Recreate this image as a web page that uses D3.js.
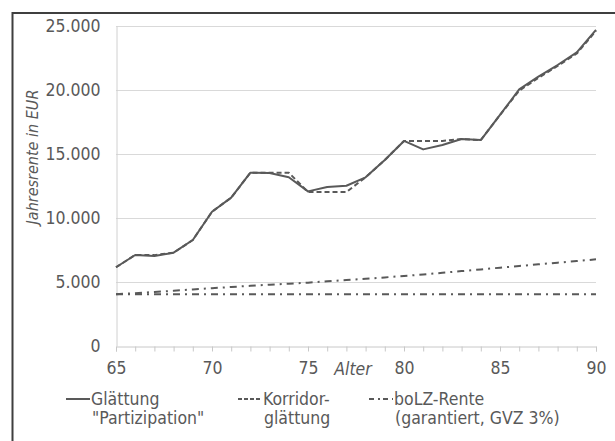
<!DOCTYPE html>
<html>
<head>
<meta charset="utf-8">
<script src="https://cdn.jsdelivr.net/npm/d3@7"></script>
<style>
  body { margin: 0; background: #fff; }
  svg { display: block; font-family: "DejaVu Sans Condensed", "DejaVu Sans", Verdana, sans-serif; }
</style>
</head>
<body>
<div id="chart"></div>
<script>
// Alter 65..90
const ages = [65, 66, 67, 68, 69, 70, 71, 72, 73, 74, 75, 76, 77, 78, 79, 80, 81, 82, 83, 84, 85, 86, 87, 88, 89, 90];

const glaettung = [6150, 7110, 7030, 7290, 8280, 10490, 11590, 13540, 13510, 13180, 12080, 12420, 12520, 13180, 14530, 16020, 15360, 15700, 16170, 16090, 18050, 20050, 21040, 21950, 22940, 24690];
const korridor = [6150, 7110, 7100, 7290, 8280, 10490, 11590, 13540, 13540, 13540, 12030, 12030, 12030, 13180, 14530, 16020, 16020, 16020, 16170, 16090, 18050, 19950, 20950, 21880, 22850, 24620];
const bolzRente = [4040, 4130, 4220, 4310, 4420, 4520, 4610, 4700, 4790, 4870, 4950, 5050, 5150, 5250, 5360, 5470, 5590, 5720, 5850, 5980, 6120, 6250, 6380, 6510, 6640, 6770];
const garantiert = [4040, 4040, 4040, 4040, 4040, 4040, 4040, 4040, 4040, 4040, 4040, 4040, 4040, 4040, 4040, 4040, 4040, 4040, 4040, 4040, 4040, 4040, 4040, 4040, 4040, 4040];

const yTicks = [0, 5000, 10000, 15000, 20000, 25000];
const xLabels = [65, 70, 75, 80, 85, 90];

const legendItems = [
  { lines: ["Glättung", "\"Partizipation\""], dash: null, x: 66 },
  { lines: ["Korridor-", "glättung"], dash: "4,2", x: 238 },
  { lines: ["boLZ-Rente", "(garantiert, GVZ 3%)"], dash: "5,4,2,3", x: 369 }
];

const W = 615, H = 441;
const ink = "#595959";
const fontSize = "17.5px";
const margin = { top: 26, right: 19, bottom: 95, left: 116 };

const svg = d3.select("#chart").append("svg")
  .attr("width", W)
  .attr("height", H);

// frame (cropped at right and bottom)
svg.append("rect")
  .attr("x", 12.5).attr("y", 13)
  .attr("width", 800).attr("height", 800)
  .attr("fill", "none")
  .attr("stroke", "#3f3f3f")
  .attr("stroke-width", 2);

const x = d3.scaleLinear().domain([65, 90]).range([margin.left, W - margin.right]);
const y = d3.scaleLinear().domain([0, 25000]).range([H - margin.bottom, margin.top]);

// gridlines
svg.append("g")
  .selectAll("line")
  .data(yTicks.filter(d => d > 0))
  .enter().append("line")
  .attr("x1", x(65)).attr("x2", x(90))
  .attr("y1", d => y(d) + 0.5).attr("y2", d => y(d) + 0.5)
  .attr("stroke", "#d9d9d9")
  .attr("stroke-width", 1);

// y axis
const yAxis = svg.append("g")
  .attr("transform", `translate(${x(65) + 0.5},0)`)
  .call(d3.axisLeft(y).tickValues(yTicks).tickSize(0).tickPadding(16)
    .tickFormat(d => d3.format(",")(d).replace(/,/g, ".")));
yAxis.select(".domain").attr("stroke", "#d0d0d0");
yAxis.selectAll("text")
  .attr("fill", ink)
  .style("font-size", fontSize);

// x axis
const xAxis = svg.append("g")
  .attr("transform", `translate(0,${y(0) + 0.5})`)
  .call(d3.axisBottom(x).tickValues(ages).tickSize(5).tickPadding(10)
    .tickFormat(d => xLabels.includes(d) ? d : ""));
xAxis.select(".domain").attr("stroke", "#c8c8c8");
xAxis.selectAll(".tick line").attr("stroke", "#c8c8c8");
xAxis.selectAll("text")
  .attr("fill", ink)
  .style("font-size", fontSize);
// d3 sets font-family on the axis group; use the page font instead
svg.selectAll("g").attr("font-family", null).attr("font-size", null);

// axis titles
svg.append("text")
  .attr("transform", "translate(32,157) rotate(-90)")
  .attr("text-anchor", "middle")
  .attr("dy", "0.35em")
  .attr("fill", ink)
  .style("font-size", "16px")
  .style("font-style", "italic")
  .text("Jahresrente in EUR");

svg.append("text")
  .attr("x", 353)
  .attr("y", 375)
  .attr("text-anchor", "middle")
  .attr("fill", ink)
  .style("font-size", fontSize)
  .style("font-style", "italic")
  .text("Alter");

// series
const line = d3.line()
  .x((d, i) => x(ages[i]))
  .y(d => y(d));

const series = [
  { values: garantiert, dash: "7,5,2,5" },
  { values: bolzRente, dash: "7,5,2,5" },
  { values: korridor, dash: "5,3" },
  { values: glaettung, dash: null }
];

svg.append("g")
  .selectAll("path")
  .data(series)
  .enter().append("path")
  .attr("d", d => line(d.values))
  .attr("fill", "none")
  .attr("stroke", ink)
  .attr("stroke-width", 2)
  .attr("stroke-linejoin", "round")
  .attr("stroke-dasharray", d => d.dash);

// legend
const legend = svg.append("g").attr("class", "legend");
const lg = legend.selectAll("g")
  .data(legendItems)
  .enter().append("g")
  .attr("transform", d => `translate(${d.x},0)`);

lg.append("line")
  .attr("x1", 0).attr("x2", 24)
  .attr("y1", 399).attr("y2", 399)
  .attr("stroke", ink)
  .attr("stroke-width", 2)
  .attr("stroke-dasharray", d => d.dash);

lg.append("text")
  .attr("x", 25)
  .attr("y", 405)
  .attr("fill", ink)
  .style("font-size", fontSize)
  .text(d => d.lines[0]);

lg.append("text")
  .attr("x", 26)
  .attr("y", 424)
  .attr("fill", ink)
  .style("font-size", fontSize)
  .text(d => d.lines[1]);
</script>
</body>
</html>
